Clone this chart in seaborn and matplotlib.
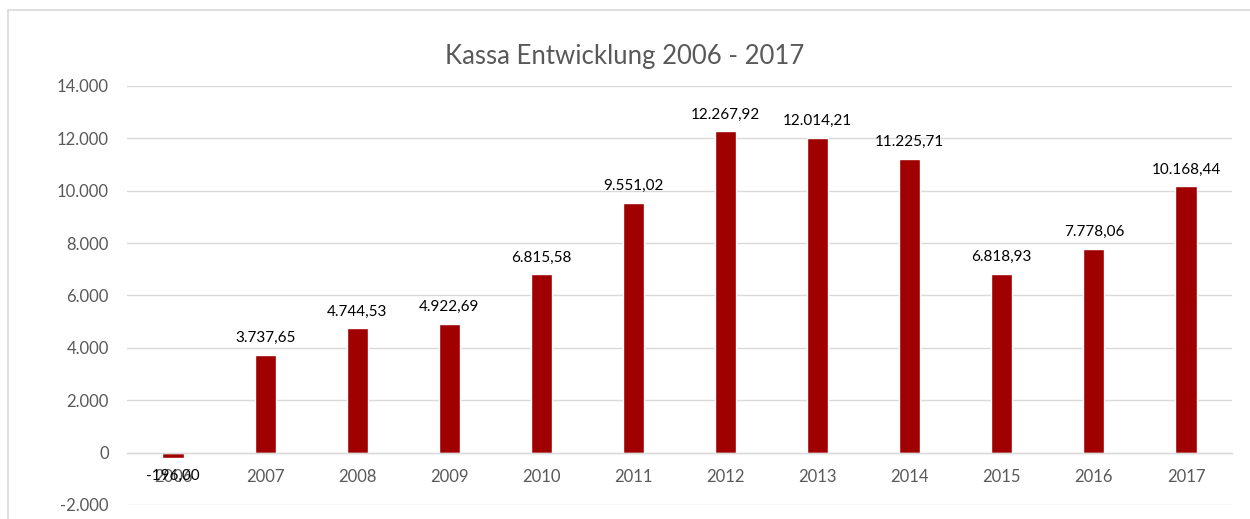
import matplotlib
matplotlib.use('Agg')
import matplotlib.pyplot as plt
import matplotlib.ticker as mticker
from matplotlib.patches import Rectangle
import seaborn as sns

# Data
years = ['2006', '2007', '2008', '2009', '2010', '2011',
         '2012', '2013', '2014', '2015', '2016', '2017']
kassa = [-196.00, 3737.65, 4744.53, 4922.69, 6815.58, 9551.02,
         12267.92, 12014.21, 11225.71, 6818.93, 7778.06, 10168.44]

bar_color = '#A00000'
grid_color = '#D9D9D9'
text_gray = '#595959'


def de_fmt(v, decimals=2):
    s = f"{v:,.{decimals}f}"
    return s.replace(',', 'X').replace('.', ',').replace('X', '.')


sns.set_style('white')
plt.rcParams['font.family'] = ['Lato', 'DejaVu Sans']

fig = plt.figure(figsize=(12.5, 5.19), dpi=100)
ax = fig.add_axes([0.1016, 0.027, 0.884, 0.8073])

sns.barplot(x=years, y=kassa, color=bar_color, saturation=1, width=0.23, ax=ax)

ax.set_xlim(-0.5, len(years) - 0.5)
ax.set_ylim(-2000, 14000)
ax.yaxis.set_major_locator(mticker.MultipleLocator(2000))
ax.yaxis.set_major_formatter(mticker.FuncFormatter(lambda v, p: de_fmt(v, 0)))
ax.grid(axis='y', color=grid_color, linewidth=1)
ax.set_axisbelow(True)

for side in ['top', 'right', 'left']:
    ax.spines[side].set_visible(False)
ax.spines['bottom'].set_position(('data', 0))
ax.spines['bottom'].set_color(grid_color)
ax.spines['bottom'].set_linewidth(1)

ax.tick_params(axis='x', length=0, pad=12, labelsize=12, labelcolor=text_gray)
ax.tick_params(axis='y', length=0, pad=13, labelsize=12, labelcolor=text_gray)
ax.set_xlabel('')
ax.set_ylabel('')

# data labels
for i, v in enumerate(kassa):
    if v >= 0:
        ax.annotate(de_fmt(v), (i, v), xytext=(0, 7), textcoords='offset points',
                    ha='center', va='bottom', fontsize=11, color='black')
    else:
        ax.annotate(de_fmt(v), (i, v), xytext=(0, -8), textcoords='offset points',
                    ha='center', va='top', fontsize=11, color='black')

fig.suptitle('Kassa Entwicklung 2006 - 2017', y=0.915, fontsize=18.5, color=text_gray)

# chart border
fig.patches.append(Rectangle((8 / 1250, -0.2), 1.2, 1.2 - 10 / 519, transform=fig.transFigure,
                             fill=False, edgecolor=grid_color, linewidth=1.2))

fig.savefig('out.png', dpi=100, facecolor='white')
